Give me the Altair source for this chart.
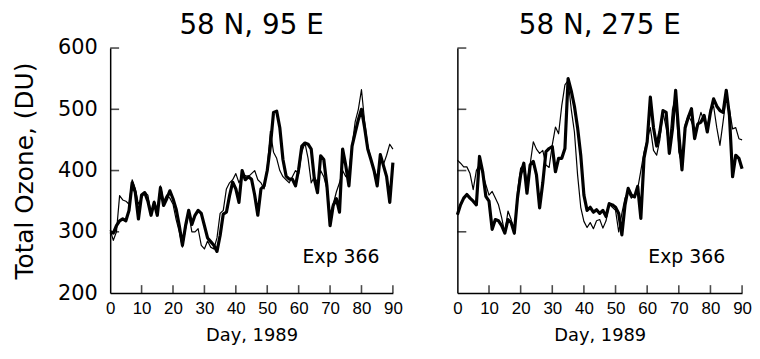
import altair as alt
import pandas as pd

days = list(range(91))

left_thick = [300,298,310,318,321,318,335,380,364,321,
              360,364,350,327,348,327,372,343,354,367,
              354,337,310,278,310,335,312,327,335,330,
              310,290,284,278,268,294,329,332,359,381,
              370,348,400,385,390,386,360,327,370,375,
              400,440,495,497,470,418,391,386,386,375,
              402,440,445,443,435,386,364,424,418,375,
              310,343,354,332,435,408,375,440,462,483,
              500,470,435,418,400,375,426,408,390,348,
              413]
left_thin = [303,286,300,359,352,350,345,385,370,345,
             355,365,360,330,350,335,375,350,360,355,
             345,320,300,275,305,330,300,300,305,278,
             272,285,275,272,290,330,335,370,380,385,
             395,380,390,392,390,395,400,385,380,370,
             405,464,430,420,400,390,385,380,390,400,
             395,430,445,420,380,390,380,400,390,370,
             330,345,365,380,400,390,400,440,480,500,
             532,480,440,420,400,390,420,410,425,443,
             435]
right_thick = [328,344,355,361,355,350,344,423,398,358,
               350,304,320,318,310,298,320,315,298,355,
               393,412,363,409,415,393,339,380,431,436,
               439,398,420,420,436,550,530,505,470,425,
               360,335,340,332,336,330,335,325,346,344,
               340,330,295,344,371,360,357,374,322,420,
               447,520,470,440,463,498,495,428,468,531,
               460,401,470,487,501,452,476,479,490,463,
               495,517,505,498,495,531,490,390,425,420,
               403]
right_thin = [417,412,406,406,395,369,400,410,395,377,
              360,366,355,344,323,298,334,320,296,366,
              404,409,382,410,447,435,428,433,409,405,
              442,471,460,506,540,547,500,463,393,340,
              317,307,315,305,318,320,306,318,345,340,
              335,300,330,355,365,355,360,370,400,430,
              450,470,433,425,450,495,470,440,500,520,
              430,410,475,490,480,465,476,495,480,470,
              500,505,470,441,480,520,500,468,470,452,
              450]

titles = ["58 N, 95 E", "58 N, 275 E"]
x_ticks = [0, 10, 20, 30, 40, 50, 60, 70, 80, 90]
y_ticks = [200, 300, 400, 500, 600]
inner_x_ticks = [10, 20, 30, 40, 50, 60, 70, 80, 90]
inner_y_ticks = [300, 400, 500, 600]
note_text = "Exp 366"
note_days = [73.5, 72.5]
note_val = 258

H = 247
TITLE_FONT = "DejaVu Sans"


def panel(thick, thin, title, width, show_y, title_offset, note_day):
    df = pd.DataFrame({"day": days, "thick": thick, "thin": thin})
    xs = alt.Scale(domain=[0, 90], nice=False, zero=False)
    ys = alt.Scale(domain=[200, 600], nice=False, zero=False)
    xaxis = alt.Axis(values=x_ticks, ticks=False, grid=False, labelFont="Liberation Sans",
                     labelFontSize=17, labelPadding=8, labelColor="black",
                     labelOverlap=False, labelFlush=False,
                     domainColor="black", domainWidth=1.5,
                     titleFont=TITLE_FONT, titleFontSize=18, titleFontWeight="normal",
                     titlePadding=10, titleColor="black")
    if show_y:
        yaxis = alt.Axis(values=y_ticks, ticks=False, grid=False, labelFont=TITLE_FONT,
                         labelFontSize=21, labelPadding=13, labelColor="black",
                         labelOverlap=False,
                         domainColor="black", domainWidth=1.5,
                         titleFont=TITLE_FONT, titleFontSize=25, titleFontWeight="normal",
                         titlePadding=20, titleColor="black")
        ytitle = "Total Ozone, (DU)"
    else:
        yaxis = alt.Axis(values=y_ticks, ticks=False, grid=False, labels=False,
                         domainColor="black", domainWidth=1.5)
        ytitle = None

    base = alt.Chart(df)
    l_thick = base.mark_line(color="black", strokeWidth=3.2, strokeJoin="round").encode(
        x=alt.X("day:Q", scale=xs, axis=xaxis, title="Day, 1989"),
        y=alt.Y("thick:Q", scale=ys, axis=yaxis, title=ytitle),
    )
    l_thin = base.mark_line(color="black", strokeWidth=1.2, strokeJoin="round").encode(
        x=alt.X("day:Q", scale=xs, axis=xaxis, title="Day, 1989"),
        y=alt.Y("thin:Q", scale=ys, axis=yaxis, title=ytitle),
    )
    xt = alt.Chart(pd.DataFrame({"d": inner_x_ticks})).mark_tick(
        color="black", size=8, thickness=1.6, orient="vertical", yOffset=-4
    ).encode(x=alt.X("d:Q", scale=xs, axis=xaxis, title="Day, 1989"), y=alt.value(H))
    yt = alt.Chart(pd.DataFrame({"v": inner_y_ticks})).mark_tick(
        color="black", size=9, thickness=1.6, orient="horizontal", xOffset=4.5
    ).encode(y=alt.Y("v:Q", scale=ys, axis=yaxis, title=ytitle), x=alt.value(0))
    note = alt.Chart(pd.DataFrame({"d": [note_day], "v": [note_val], "t": [note_text]})).mark_text(
        font=TITLE_FONT, fontSize=19, color="black"
    ).encode(x=alt.X("d:Q", scale=xs, axis=xaxis, title="Day, 1989"),
             y=alt.Y("v:Q", scale=ys, axis=yaxis, title=ytitle), text="t:N")

    return alt.layer(l_thick, l_thin, xt, yt, note).properties(
        width=width, height=H,
        title=alt.TitleParams(title, font=TITLE_FONT, fontSize=28, fontWeight="normal",
                              color="black", anchor="middle", offset=title_offset, frame="group"),
    )


left = panel(left_thick, left_thin, titles[0], 285, True, -3, note_days[0])
right = panel(right_thick, right_thin, titles[1], 287, False, 7, note_days[1])

chart = alt.hconcat(left, right, spacing=50).properties(
    padding={"left": 4, "top": 3, "right": 0, "bottom": 0},
    background="white",
).configure_view(stroke=None).configure_axisX(labelOverlap=False)

chart.save("out.html", embed_options={"renderer": "svg", "actions": False})
